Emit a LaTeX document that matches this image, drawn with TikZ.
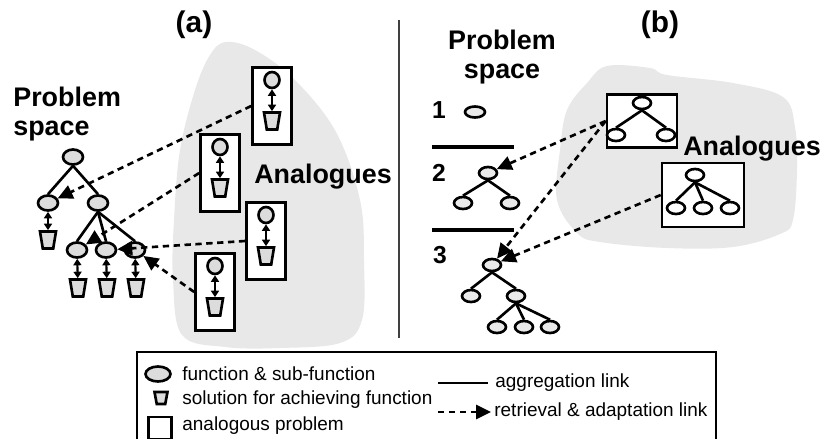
\documentclass[tikz,border=0pt]{standalone}
\usepackage{fontspec}
\setmainfont{Liberation Sans}
\usepackage{tikz}
\usetikzlibrary{
arrows.meta,
shapes.geometric
}
\definecolor{blobgray}{HTML}{E8E8E8}
\definecolor{nodegray}{HTML}{DCDCDC}
\definecolor{rulegray}{HTML}{404040}

\begin{document}
\begin{tikzpicture}[x=0.2mm, y=-0.2mm,
  fn/.style={ellipse, draw, line width=1.5pt, fill=nodegray, minimum width=0.4cm, minimum height=0.3cm, inner sep=0pt},
  fnsmall/.style={fn, minimum width=0.3cm, minimum height=0.32cm},
  fnb/.style={ellipse, draw, line width=1.5pt, fill=nodegray!60, minimum width=0.36cm, minimum height=0.24cm, inner sep=0pt},
  sol/.style={trapezium, shape border rotate=180, trapezium angle=75, trapezium stretches=true, draw, line width=1.5pt, fill=nodegray, minimum width=0.32cm, minimum height=0.34cm, inner sep=0.5pt},
  anabox/.style={draw, line width=1.5pt, fill=white, inner sep=0pt},
  agg/.style={line width=1.5pt},
  achieve/.style={line width=1.2pt, {Triangle[length=0.13cm,width=0.16cm]}-{Triangle[length=0.13cm,width=0.16cm]}},
  retr/.style={line width=1.5pt, dash pattern=on 3.6pt off 2.6pt, -{Triangle[length=0.3cm,width=0.28cm]}},
  title/.style={font=\bfseries\fontsize{17}{20}\selectfont},
  lbl/.style={font=\bfseries\fontsize{15.3}{16.5}\selectfont, inner sep=0pt},
  digit/.style={font=\bfseries\fontsize{14}{16}\selectfont, inner sep=0pt},
  legtext/.style={font=\fontsize{10.8}{13}\selectfont, anchor=west, inner sep=0pt}
]
\useasboundingbox (0,0) rectangle (823,439);

% Analogue clouds
\fill[blobgray] plot[smooth cycle, tension=0.6] coordinates {
  (226,42) (255,50) (295,80) (336,132) (360,200) (364,260) (362,320) (340,343)
  (280,348) (225,347) (182,335) (173,280) (174,220) (180,150) (195,90) (210,55)};
\fill[blobgray] plot[smooth cycle, tension=0.6] coordinates {
  (607,66) (650,68) (667,75) (733,83) (783,97) (795,127) (797,170) (793,220)
  (780,234) (733,247) (667,248) (600,242) (577,233) (557,200) (560,150) (567,110) (587,83)};

% Panel titles and divider
\node[title] (tita) at (194,25) {(a)};
\node[title] (titb) at (660,25) {(b)};
\draw[rulegray, line width=1.2pt] (399,20) -- (399,338);

% ---- (a) problem space
\node[lbl, anchor=west, align=left] (psa) at (13,114) {Problem\\space};
\node[fn] (root) at (73,157) {};
\node[fn] (c1) at (48,203) {};
\node[fn] (c2) at (98,203) {};
\node[fn] (g1) at (77,250) {};
\node[fn] (g2) at (106,250) {};
\node[fn] (g3) at (135,250) {};
\node[sol] (s1) at (48,240) {};
\foreach \n/\x in {sg1/78, sg2/107, sg3/136}
  \node[sol] (\n) at (\x,288) {};
\foreach \p/\c in {root/c1, root/c2, c2/g1, c2/g2, c2/g3}
  \draw[agg] (\p.south) -- (\c.north);
\foreach \f/\s in {c1/s1, g1/sg1, g2/sg2, g3/sg3}
  \draw[achieve] (\f) -- (\s);

% ---- (a) analogues
\node[lbl] (ana) at (323,177) {Analogues};
\foreach \n/\x/\y in {a1/272/106, a2/220/173, a3/266/241, a4/215/292} {
  \node[anabox, minimum width=0.78cm, minimum height=1.54cm] (\n) at (\x,\y) {};
  \node[fnsmall] (\n-fn) at ([yshift=0.52cm]\n.center) {};
  \node[sol] (\n-sol) at ([yshift=-0.3cm]\n.center) {};
  \draw[achieve] (\n-fn) -- (\n-sol);
}
\draw[retr] (a1.west) -- (c1);
\draw[retr] (a2.west) -- (g1);
\draw[retr] (a3.west) -- (g2);
\draw[retr] (a4.west) -- (g3);

% ---- (b) problem space, step by step
\node[lbl, align=center] (psb) at (502,57) {Problem\\space};
\node[digit] (d1) at (439,110) {1};
\node[digit] (d2) at (439,173) {2};
\node[digit] (d3) at (440,255) {3};
\node[fnb, minimum width=0.4cm, minimum height=0.22cm] (p1) at (475,112) {};
\draw[line width=2.2pt] (432,147) -- (514,147);
\draw[line width=2.2pt] (432,230) -- (514,230);

\node[fnb] (q0) at (488,173) {};
\node[fnb] (q1) at (463,203) {};
\node[fnb] (q2) at (510,203) {};
\node[fnb] (r0) at (492,265) {};
\node[fnb] (r1) at (471,296) {};
\node[fnb] (r2) at (516,296) {};
\node[fnb] (r3) at (497,327) {};
\node[fnb] (r4) at (524,327) {};
\node[fnb] (r5) at (550,327) {};
\foreach \p/\c in {q0/q1, q0/q2, r0/r1, r0/r2, r2/r3, r2/r4, r2/r5}
  \draw[agg] (\p.south) -- (\c.north);

% ---- (b) analogues
\node[lbl] (anb) at (752,149) {Analogues};
\node[anabox, minimum width=1.4cm, minimum height=1.06cm] (bx1) at (642,121) {};
\node[fnb, fill=white] (u0) at (642,103) {};
\node[fnb, fill=white] (u1) at (616,135) {};
\node[fnb, fill=white] (u2) at (666,135) {};
\node[anabox, minimum width=1.64cm, minimum height=1.28cm] (bx2) at (703,195) {};
\node[fnb, fill=white] (v0) at (695,175) {};
\node[fnb, fill=white] (v1) at (676,208) {};
\node[fnb, fill=white] (v2) at (703,208) {};
\node[fnb, fill=white] (v3) at (730,208) {};
\foreach \p/\c in {u0/u1, u0/u2, v0/v1, v0/v2, v0/v3}
  \draw[agg] (\p.south) -- (\c.north);
\draw[retr] (bx1.west) -- (q0);
\draw[retr] (bx1.west) -- (r0);
\draw[retr] (bx2.west) -- (r0);

% ---- legend
\draw[line width=0.7pt] (137,441) |- (716,352) -- (716,441);
\node[fn, minimum width=0.5cm, minimum height=0.3cm] (lgfn) at (158,374) {};
\node[sol, minimum width=0.26cm, minimum height=0.24cm] (lgsol) at (161,398) {};
\node[anabox, minimum width=0.46cm, minimum height=0.44cm] (lgbox) at (160,428) {};
\node[legtext] (lgfnt) at (182,374) {function \& sub-function};
\node[legtext] (lgsolt) at (182,400) {solution for achieving function};
\node[legtext] (lgboxt) at (182,426) {analogous problem};
\coordinate (lga1) at (438,383);
\coordinate (lga2) at (488,383);
\draw[agg] (lga1) -- (lga2);
\node[legtext] (lgagg) at (495,383) {aggregation link};
\coordinate (lgr1) at (438,412);
\coordinate (lgr2) at (491,412);
\draw[retr] (lgr1) -- (lgr2);
\node[legtext] (lgret) at (494,412) {retrieval \& adaptation link};

\end{tikzpicture}
\end{document}
